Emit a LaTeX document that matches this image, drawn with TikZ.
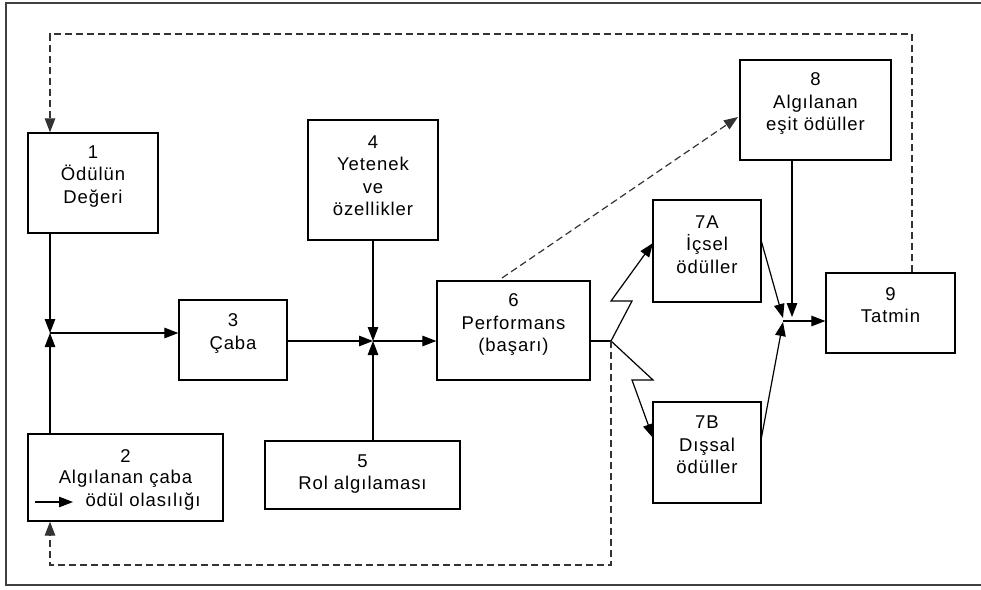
\documentclass[tikz,border=0pt]{standalone}
\usepackage{fontspec}
\setmainfont{Liberation Sans}[LetterSpace=5]
\usetikzlibrary{arrows.meta,calc}
\begin{document}
\begin{tikzpicture}[x=1pt,y=-1pt,
  blk/.style={draw, line width=1.3pt, inner sep=0pt},
  lbl/.style={align=center, inner sep=0pt, font=\fontsize{18.5}{22.5}\selectfont},
  tip/.style={-{Triangle[length=14pt,width=10.5pt]}},
  arr/.style={line width=1.2pt, tip},
  ln/.style={line width=1.2pt},
  fb/.style={line width=1.2pt, draw=black!80, dash pattern=on 7pt off 4pt},
  fbarr/.style={fb, tip}]
\useasboundingbox (0,0) rectangle (981,589);
\fill[white] (0,0) rectangle (981,589);
% outer frame
\draw[line width=1.6pt, draw=black!75] (6,3) rectangle (995,585);

% boxes
\node[blk, minimum width=130pt, minimum height=100pt] (b1) at (93,183) {};
\node[blk, minimum width=195pt, minimum height=87pt] (b2) at (125.5,477.5) {};
\node[blk, minimum width=108pt, minimum height=80pt] (b3) at (233,340) {};
\node[blk, minimum width=130pt, minimum height=120pt] (b4) at (373,180) {};
\node[blk, minimum width=195pt, minimum height=68pt] (b5) at (362.5,475) {};
\node[blk, minimum width=153pt, minimum height=99pt] (b6) at (513.5,330.5) {};
\node[blk, minimum width=108pt, minimum height=102pt] (b7a) at (707,251) {};
\node[blk, minimum width=108pt, minimum height=101pt] (b7b) at (707,452.5) {};
\node[blk, minimum width=151pt, minimum height=100pt] (b8) at (815.5,110) {};
\node[blk, minimum width=129pt, minimum height=80pt] (b9) at (890.5,313) {};

% labels
\node[lbl] (t1) at (93,176.5) {1\\Ödülün\\Değeri};
\node[lbl] (t2a) at (125.5,456) {2};
\node[lbl] (t2b) at (125.5,479) {Algılanan çaba};
\node[lbl] (t2c) at (143,502) {ödül olasılığı};
\node[lbl] (t3) at (233,333.5) {3\\Çaba};
\node[lbl] (t4) at (373,175.5) {4\\Yetenek\\ve\\özellikler};
\node[lbl] (t5) at (362.5,474) {5\\Rol algılaması};
\node[lbl] (t6) at (513.5,324.5) {6\\Performans\\(başarı)};
\node[lbl] (t7a) at (707,244.5) {7A\\İçsel\\ödüller};
\node[lbl] (t7b) at (707,445) {7B\\Dışsal\\ödüller};
\node[lbl] (t8) at (815.5,103.5) {8\\Algılanan\\eşit ödüller};
\node[lbl] (t9) at (890.5,305) {9\\Tatmin};

% small arrow inside box 2
\coordinate (s0) at (35,502);
\coordinate (s1) at (73,502);
\draw[arr] (s0) -- (s1);

% junction points
\coordinate (j1) at (50,333);
\coordinate (j2) at (373,341);
\coordinate (j3) at (783,321);
\coordinate (z) at (611,341);

% inputs to effort
\draw[arr] (b1.south -| j1) -- (j1);
\draw[arr] (b2.north -| j1) -- (j1);
\draw[arr] (j1) -- (j1 -| b3.west);

% inputs to performance
\draw[arr] (b3.east |- j2) -- (j2);
\draw[arr] (b4.south) -- (j2);
\draw[arr] (b5.north -| j2) -- (j2);
\draw[arr] (j2) -- (j2 -| b6.west);

% performance to rewards (zigzag)
\draw[ln] (b6.east |- z) -- (z);
\coordinate (za1) at (632,301);
\coordinate (za2) at (611,301);
\coordinate (za3) at (653,243);
\draw[arr] (z) -- (za1) -- (za2) -- (za3);
\coordinate (zb1) at (653,380);
\coordinate (zb2) at (632,380);
\coordinate (zb3) at (653,438);
\draw[arr] (z) -- (zb1) -- (zb2) -- (zb3);

% rewards to satisfaction
\coordinate (r7a) at (761,240);
\coordinate (r7b) at (761,440);
\draw[arr] (r7a) -- ($(j3)+(0,-3)$);
\draw[arr] (r7b) -- ($(j3)+(0,1)$);
\coordinate (e8) at (792,317);
\draw[arr] (b8.south -| e8) -- (e8);
\draw[arr] (j3) -- (j3 -| b9.west);

% feedback loops
\coordinate (p6) at (502,278);
\coordinate (p8) at (738,117);
\draw[fbarr] (p6) -- (p8);
\coordinate (f1) at (912,34);
\coordinate (f2) at (50,34);
\draw[fbarr] (b9.north -| f1) -- (f1) -- (f2) -- (b1.north -| f2);
\coordinate (g1) at (611,565);
\coordinate (g2) at (50,565);
\draw[fbarr] (z) -- (g1) -- (g2) -- (b2.south -| g2);
\end{tikzpicture}
\end{document}
